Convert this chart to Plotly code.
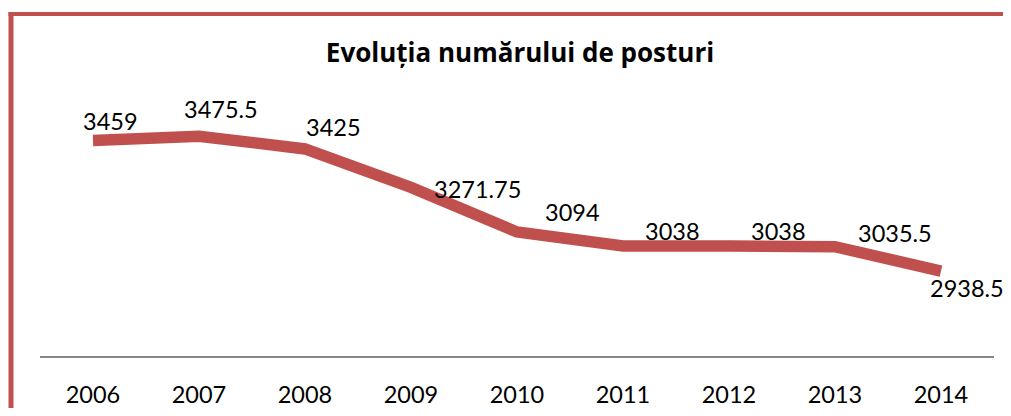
import plotly.graph_objects as go

years = ["2006", "2007", "2008", "2009", "2010", "2011", "2012", "2013", "2014"]
posturi = [3459, 3475.5, 3425, 3271.75, 3094, 3038, 3038, 3035.5, 2938.5]
title_text = "Evoluția numărului de posturi"

# label offsets (pixels) as placed in the original chart
label_dx = [17, 22, 28, 66, 55, 49, 49, 60, 26]
label_dy = [19, 27, 22, -2, 20, 15, 15, 14, -17]

# page body has an 8px default margin: work in page pixels, shift by OFF
OFF = 8
W, H = 1011 - OFF, 416 - 2 * OFF
PL, PR, PT, PB = 40, 994, 105, 356          # plot area in page pixels
ML, MR, MT, MB = PL - OFF, W - (PR - OFF), PT - OFF, H - (PB - OFF)
PW, PH = W - ML - MR, H - MT - MB
RED = "#C0504D"
FONT = "Lato, 'Open Sans', sans-serif"
FS = 23.5

xs = list(range(len(years)))

fig = go.Figure()
fig.add_trace(go.Scatter(
    x=xs, y=posturi, mode="lines",
    line=dict(color=RED, width=11.5),
    hoverinfo="skip", showlegend=False,
))

for x, v, dx, dy in zip(xs, posturi, label_dx, label_dy):
    fig.add_annotation(
        x=x, y=v, xref="x", yref="y", text=f"{v:g}", showarrow=False,
        xshift=dx, yshift=dy, font=dict(family=FONT, size=FS, color="#000000"),
        xanchor="center", yanchor="middle",
    )

def px_to_paper_x(px):
    return (px - PL) / PW

def px_to_paper_y(py):
    return (PB - py) / PH

# red frame (partially visible top & left borders)
fig.add_shape(type="line", xref="paper", yref="paper",
              x0=px_to_paper_x(11), x1=px_to_paper_x(11),
              y0=px_to_paper_y(12), y1=px_to_paper_y(430),
              line=dict(color=RED, width=5))
fig.add_shape(type="line", xref="paper", yref="paper",
              x0=px_to_paper_x(8.5), x1=px_to_paper_x(1030),
              y0=px_to_paper_y(14), y1=px_to_paper_y(14),
              line=dict(color=RED, width=4))

fig.update_layout(
    width=W, height=H,
    margin=dict(l=ML, r=MR, t=MT, b=MB, pad=0, autoexpand=False),
    paper_bgcolor="white", plot_bgcolor="white",
    title=dict(text=f"<b>{title_text}</b>", xref="paper", x=px_to_paper_x(520),
               xanchor="center", yref="container", y=1 - (53 - OFF) / H, yanchor="middle",
               font=dict(family="'Open Sans', sans-serif", size=26, color="#000000")),
    font=dict(family=FONT, size=FS, color="#000000"),
)
fig.update_xaxes(
    range=[-0.5, len(years) - 0.5],
    tickmode="array", tickvals=xs, ticktext=years,
    showline=True, linecolor="#868686", linewidth=1.5,
    showgrid=False, zeroline=False, ticks="",
    ticklabelstandoff=17, automargin=False,
    tickfont=dict(family=FONT, size=FS, color="#000000"),
)
fig.update_yaxes(range=[2600, 3600], visible=False, showgrid=False, zeroline=False,
                 automargin=False)

fig.write_html("out.html")
